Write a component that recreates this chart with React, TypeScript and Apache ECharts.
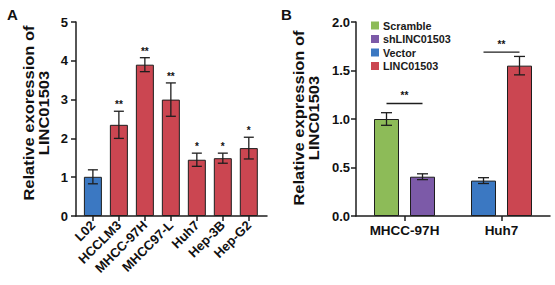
import React, { useEffect, useRef } from "react";
import * as echarts from "echarts";

// ---- Panel A data ----
const catsA = ["L02", "HCCLM3", "MHCC-97H", "MHCC97-L", "Huh7", "Hep-3B", "Hep-G2"];
const valsA = [1.01, 2.35, 3.9, 3.0, 1.45, 1.49, 1.75];
const errA = [0.18, 0.35, 0.18, 0.43, 0.17, 0.13, 0.28];
const sigA = ["", "**", "**", "**", "*", "*", "*"];
const colorsA = ["#3b78c2", "#cb4651", "#cb4651", "#cb4651", "#cb4651", "#cb4651", "#cb4651"];
const titleA = ["Relative exoression of", "LINC01503"];

// ---- Panel B data ----
const catsB = ["MHCC-97H", "Huh7"];
const scramble = [1.0, "-"];
const shLinc = [0.405, "-"];
const vector = ["-", 0.365];
const lincOver = ["-", 1.55];
const scrambleErr = [0.065, 0];
const shLincErr = [0.03, 0];
const vectorErr = [0, 0.03];
const lincOverErr = [0, 0.095];
const sigBLevel = [1.16, 1.69];
const sigBText = ["**", "**"];
const titleB = ["Relative expression of", "LINC01503"];

const FONT = "Liberation Sans, Arial, Helvetica, sans-serif";
const DARK = "#1e1e1e";
const BAR_W_B = 25;
const GAP_B = 11;

function vTitle(lines: string[], xs: number[], cy: number) {
  return lines.map((t, i) => ({
    type: "text",
    x: xs[i],
    y: cy,
    rotation: Math.PI / 2,
    scaleX: 1.18,
    style: {
      text: t,
      font: `bold 14px ${FONT}`,
      fill: "#111",
      align: "center",
      verticalAlign: "middle",
    },
  }));
}

export default function App() {
  const ref = useRef<HTMLDivElement>(null);
  useEffect(() => {
    if (!ref.current) return;
    const chart = echarts.init(ref.current, null, { renderer: "svg" });

    const axisLine = { show: true, onZero: false, lineStyle: { color: DARK, width: 1.5 } };
    const tick = { show: true, length: 5, lineStyle: { color: DARK, width: 1.5 } };

    const errData: any[] = [];
    valsA.forEach((v, i) => errData.push([i, v, errA[i]]));

    const errB: any[] = [];
    const half = (BAR_W_B + GAP_B) / 2;
    [
      [scramble, scrambleErr, -1],
      [shLinc, shLincErr, 1],
      [vector, vectorErr, -1],
      [lincOver, lincOverErr, 1],
    ].forEach(([vals, errs, side]: any) => {
      vals.forEach((v: any, i: number) => {
        if (v !== "-") errB.push([i, v, errs[i], side * half]);
      });
    });

    const barBorder = { borderColor: DARK, borderWidth: 1 };
    const starLabel = {
      show: true,
      position: "top",
      distance: 0,
      color: "#111",
      opacity: 1,
      fontFamily: FONT,
      fontWeight: "bold",
      fontSize: 10,
    };
    const invisible = { color: "rgba(0,0,0,0)", borderWidth: 0 };

    const option: any = {
      animation: false,
      textStyle: { fontFamily: FONT },
      grid: [
        { left: 76, top: 22, width: 191, height: 194 },
        { left: 356, top: 22, width: 194, height: 194 },
      ],
      legend: {
        orient: "vertical",
        left: 366,
        top: 15,
        itemWidth: 8,
        itemHeight: 8,
        itemGap: 2.5,
        icon: "rect",
        itemStyle: { borderWidth: 0 },
        textStyle: {
          fontFamily: FONT,
          fontWeight: "bold",
          fontSize: 10.8,
          lineHeight: 11,
          color: "#1a1a1a",
          padding: [0, 0, 0, -1],
        },
        data: ["Scramble", "shLINC01503", "Vector", "LINC01503"],
      },
      xAxis: [
        {
          type: "value",
          gridIndex: 0,
          min: -0.65,
          max: 6.7,
          axisLine,
          splitLine: { show: false },
          axisTick: { ...tick, customValues: [0, 1, 2, 3, 4, 5, 6] },
          axisLabel: {
            customValues: [0, 1, 2, 3, 4, 5, 6],
            formatter: (v: number) => catsA[Math.round(v)] ?? "",
            rotate: 45,
            margin: 7,
            fontFamily: FONT,
            fontWeight: "bold",
            fontSize: 13,
            color: "#111",
          },
        },
        {
          type: "category",
          gridIndex: 1,
          data: catsB,
          axisLine,
          axisTick: { ...tick, alignWithLabel: true },
          axisLabel: { margin: 7, fontFamily: FONT, fontWeight: "bold", fontSize: 13.5, color: "#111" },
        },
      ],
      yAxis: [
        {
          type: "value",
          gridIndex: 0,
          min: 0,
          max: 5,
          interval: 1,
          axisLine,
          axisTick: tick,
          splitLine: { show: false },
          axisLabel: { margin: 8, fontFamily: FONT, fontWeight: "bold", fontSize: 13, color: "#111" },
        },
        {
          type: "value",
          gridIndex: 1,
          min: 0,
          max: 2,
          interval: 0.5,
          axisLine,
          axisTick: tick,
          splitLine: { show: false },
          axisLabel: {
            margin: 6,
            formatter: (v: number) => v.toFixed(1),
            fontFamily: FONT,
            fontWeight: "bold",
            fontSize: 13,
            color: "#111",
          },
        },
      ],
      graphic: [
        { type: "text", left: 7, top: 7, style: { text: "A", font: `bold 15px ${FONT}`, fill: "#111" } },
        { type: "text", left: 281, top: 7, style: { text: "B", font: `bold 15px ${FONT}`, fill: "#111" } },
        ...vTitle(titleA, [29, 43.5], 113),
        ...vTitle(titleB, [299, 313.5], 118),
      ],
      series: [
        {
          type: "bar",
          xAxisIndex: 0,
          yAxisIndex: 0,
          barWidth: 18,
          data: valsA.map((v, i) => ({ value: [i, v], itemStyle: { color: colorsA[i], ...barBorder } })),
        },
        {
          type: "custom",
          xAxisIndex: 0,
          yAxisIndex: 0,
          data: errData,
          z: 10,
          renderItem: (params: any, api: any) => {
            const x = api.value(0);
            const y = api.value(1);
            const e = api.value(2);
            const t = api.coord([x, y + e]);
            const b = api.coord([x, y - e]);
            const cw = 5;
            const ls = { stroke: DARK, lineWidth: 1.3 };
            return {
              type: "group",
              children: [
                { type: "line", shape: { x1: t[0], y1: t[1], x2: b[0], y2: b[1] }, style: ls },
                { type: "line", shape: { x1: t[0] - cw, y1: t[1], x2: t[0] + cw, y2: t[1] }, style: ls },
                { type: "line", shape: { x1: b[0] - cw, y1: b[1], x2: b[0] + cw, y2: b[1] }, style: ls },
              ],
            };
          },
        },
        {
          type: "scatter",
          xAxisIndex: 0,
          yAxisIndex: 0,
          symbolSize: 1,
          itemStyle: invisible,
          z: 11,
          data: valsA.map((v, i) => [i, v + errA[i]]),
          label: { ...starLabel, distance: 1, formatter: (p: any) => sigA[p.dataIndex] },
        },
        {
          name: "Scramble",
          type: "bar",
          xAxisIndex: 1,
          yAxisIndex: 1,
          stack: "L",
          barWidth: BAR_W_B,
          barGap: `${(GAP_B / BAR_W_B) * 100}%`,
          itemStyle: { color: "#8dbb58", ...barBorder },
          data: scramble,
        },
        {
          name: "shLINC01503",
          type: "bar",
          xAxisIndex: 1,
          yAxisIndex: 1,
          stack: "R",
          barWidth: BAR_W_B,
          barGap: `${(GAP_B / BAR_W_B) * 100}%`,
          itemStyle: { color: "#7c5aa8", ...barBorder },
          data: shLinc,
        },
        {
          name: "Vector",
          type: "bar",
          xAxisIndex: 1,
          yAxisIndex: 1,
          stack: "L",
          barWidth: BAR_W_B,
          itemStyle: { color: "#3b78c2", ...barBorder },
          data: vector,
        },
        {
          name: "LINC01503",
          type: "bar",
          xAxisIndex: 1,
          yAxisIndex: 1,
          stack: "R",
          barWidth: BAR_W_B,
          itemStyle: { color: "#cb4651", ...barBorder },
          data: lincOver,
        },
        {
          type: "custom",
          xAxisIndex: 1,
          yAxisIndex: 1,
          data: errB,
          z: 10,
          renderItem: (params: any, api: any) => {
            const x = api.value(0);
            const y = api.value(1);
            const e = api.value(2);
            const off = api.value(3);
            const t = api.coord([x, y + e]);
            const b = api.coord([x, y - e]);
            const cx = t[0] + off;
            const cw = 5.5;
            const ls = { stroke: DARK, lineWidth: 1.3 };
            return {
              type: "group",
              children: [
                { type: "line", shape: { x1: cx, y1: t[1], x2: cx, y2: b[1] }, style: ls },
                { type: "line", shape: { x1: cx - cw, y1: t[1], x2: cx + cw, y2: t[1] }, style: ls },
                { type: "line", shape: { x1: cx - cw, y1: b[1], x2: cx + cw, y2: b[1] }, style: ls },
              ],
            };
          },
        },
        {
          type: "custom",
          xAxisIndex: 1,
          yAxisIndex: 1,
          data: sigBLevel.map((l, i) => [i, l]),
          z: 10,
          renderItem: (params: any, api: any) => {
            const p = api.coord([api.value(0), api.value(1)]);
            return {
              type: "line",
              shape: { x1: p[0] - half, y1: p[1], x2: p[0] + half, y2: p[1] },
              style: { stroke: DARK, lineWidth: 1.3 },
            };
          },
        },
        {
          type: "scatter",
          xAxisIndex: 1,
          yAxisIndex: 1,
          symbolSize: 1,
          itemStyle: invisible,
          z: 11,
          data: sigBLevel.map((l, i) => [i, l]),
          label: { ...starLabel, distance: 2, formatter: (p: any) => sigBText[p.dataIndex] },
        },
      ],
    };
    chart.setOption(option);
    return () => chart.dispose();
  }, []);
  return (
    <div
      ref={ref}
      style={{ position: "fixed", left: 0, top: 0, width: 555, height: 285, background: "#fff" }}
    />
  );
}
